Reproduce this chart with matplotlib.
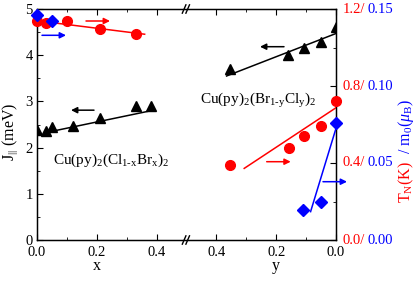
import matplotlib
matplotlib.use("Agg")
import matplotlib.pyplot as plt
import numpy as np

plt.rcParams['font.family'] = ['Liberation Serif', 'DejaVu Serif']
plt.rcParams['mathtext.fontset'] = 'custom'
plt.rcParams['mathtext.rm'] = 'Liberation Serif'
plt.rcParams['mathtext.it'] = 'Liberation Serif:italic'
plt.rcParams['mathtext.bf'] = 'Liberation Serif:bold'
plt.rcParams['font.size'] = 10.5

# ---- data: Cu(py)2(Cl1-xBrx)2 (left part, vs x) ----
x_J = [0.0, 0.03, 0.05, 0.12, 0.21, 0.33, 0.38]
J_x = [2.38, 2.36, 2.45, 2.46, 2.63, 2.89, 2.91]
x_TN = [0.0, 0.03, 0.10, 0.21, 0.33]
TN_x = [1.139, 1.129, 1.139, 1.098, 1.069]
x_m0 = [0.0, 0.05]
m0_x = [0.146, 0.142]
xfit_J = [0.033, 0.39]
Jfit_x = [2.33, 2.81]
xfit_TN = [0.0, 0.36]
TNfit_x = [1.139, 1.069]

# ---- data: Cu(py)2(Br1-yCly)2 (right part, vs y) ----
y_J = [0.355, 0.16, 0.106, 0.051, 0.0]
J_y = [3.71, 4.01, 4.15, 4.28, 4.60]
y_TN = [0.355, 0.157, 0.108, 0.049, 0.0]
TN_y = [0.39, 0.479, 0.540, 0.594, 0.722]
y_m0 = [0.111, 0.05, 0.0]
m0_y = [0.0195, 0.0249, 0.0758]
yfit_J = [0.366, 0.0]
Jfit_y = [3.55, 4.47]
yfit_TN = [0.307, 0.0]
TNfit_y = [0.372, 0.687]
yfit_m0 = [0.085, 0.0]
m0fit_y = [0.0184, 0.0725]

xticks_left = [0.0, 0.2, 0.4]
yticks_right = [0.4, 0.2, 0.0]
TN_ticks = [0.0, 0.4, 0.8, 1.2]
m0_ticks = [0.00, 0.05, 0.10, 0.15]

def Y(v):
    return 1.0 - np.asarray(v)

fig = plt.figure(figsize=(4.15, 2.81), dpi=100)
ax = fig.add_axes([37/415, 1-240/281, (336-37)/415, (240-9)/281])
ax2 = ax.twinx()
ax3 = ax.twinx()
ax3.set_axis_off()

ms = 7.5
# J (black)
ax.plot(x_J, J_x, '^', color='black', ms=ms, zorder=5)
ax.plot(xfit_J, Jfit_x, '-', color='black', lw=1.1)
ax.plot(Y(y_J), J_y, '^', color='black', ms=ms, zorder=5)
ax.plot(Y(yfit_J), Jfit_y, '-', color='black', lw=1.1)
# TN (red)
ax2.plot(x_TN, TN_x, 'o', color='red', ms=7, zorder=5, clip_on=False)
ax2.plot(xfit_TN, TNfit_x, '-', color='red', lw=1.1)
ax2.plot(Y(y_TN), TN_y, 'o', color='red', ms=7, zorder=5, clip_on=False)
ax2.plot(Y(yfit_TN), TNfit_y, '-', color='red', lw=1.1)
# m0 (blue)
ax3.plot(x_m0, m0_x, 'D', color='blue', ms=6, zorder=6, clip_on=False)
ax3.plot(Y(y_m0), m0_y, 'D', color='blue', ms=6, zorder=6, clip_on=False)
ax3.plot(Y(yfit_m0), m0fit_y, '-', color='blue', lw=1.1)

ax.set_xlim(0, 1)
ax.set_ylim(0, 5)
ax2.set_ylim(0, 1.2)
ax3.set_ylim(0, 0.15)
ax3.set_xlim(0, 1)

# x ticks
major_pos = list(xticks_left) + list(Y(yticks_right))
major_lab = [f"{v:.1f}" for v in xticks_left] + [f"{v:.1f}" for v in yticks_right]
ax.set_xticks(major_pos)
ax.set_xticklabels(major_lab)
ax.set_xticks([0.1, 0.3, 0.7, 0.9], minor=True)
ax.tick_params(axis='x', which='both', direction='in', top=True, pad=4)
ax.tick_params(axis='x', which='major', length=4)
ax.tick_params(axis='x', which='minor', length=2.5)

ax.set_yticks([0, 1, 2, 3, 4, 5])
ax.set_yticks([0.5, 1.5, 2.5, 3.5, 4.5], minor=True)
ax.tick_params(axis='y', which='both', direction='in', pad=3)
ax.tick_params(axis='y', which='major', length=4)
ax.tick_params(axis='y', which='minor', length=2.5)

ax2.set_yticks(TN_ticks)
ax2.set_yticks([0.2, 0.6, 1.0], minor=True)
ax2.set_yticklabels([])
ax2.tick_params(axis='y', which='both', direction='in')
ax2.tick_params(axis='y', which='major', length=4)
ax2.tick_params(axis='y', which='minor', length=2.5)

for t, m in zip(TN_ticks, m0_ticks):
    ax2.annotate(f"{t:.1f}/", xy=(1, t), xycoords=('axes fraction', 'data'),
                 xytext=(5, 0), textcoords='offset points', color='red',
                 ha='left', va='center', fontsize=10.5)
    ax2.annotate(f"{m:.2f}", xy=(1, t), xycoords=('axes fraction', 'data'),
                 xytext=(22.5, 0), textcoords='offset points', color='blue',
                 ha='left', va='center', fontsize=10.5)

for s in ax.spines.values():
    s.set_linewidth(1.0)

# axis break marks
for yy in (0, 1):
    for dx in (-0.008, 0.004):
        ax.plot([0.5 + dx - 0.006, 0.5 + dx + 0.006], [yy - 0.018, yy + 0.018],
                transform=ax.transAxes, color='black', lw=1.0, clip_on=False, zorder=10)

# labels
ax.text(0.2, -0.113, "x", transform=ax.get_xaxis_transform(), ha='center', va='center', fontsize=11.5)
ax.text(0.8, -0.113, "y", transform=ax.get_xaxis_transform(), ha='center', va='center', fontsize=11.5)
fig.text(10/415, 1-132/281, r"J$_{||}$ (meV)", rotation=90, ha='center', va='center', fontsize=11.5)
fig.text(406/415, 1-182/281, r"T$_\mathrm{N}$(K)", rotation=90, ha='center', va='center',
         color='red', fontsize=11.5)
fig.text(406/415, 1-127/281, r"/ m$_0$($\mu_\mathrm{B}$)", rotation=90, ha='center', va='center',
         color='blue', fontsize=11.5)

ax.text(0.054, 1.73, r"Cu(py)$_2$(Cl$_{\mathrm{1\text{-}x}}$Br$_\mathrm{x}$)$_2$", ha='left', va='center', fontsize=11)
ax.text(0.545, 3.03, r"Cu(py)$_2$(Br$_{\mathrm{1\text{-}y}}$Cl$_\mathrm{y}$)$_2$", ha='left', va='center', fontsize=11)

# arrows
def arrow(a, x0, x1, yv, color):
    a.annotate("", xy=(x1, yv), xytext=(x0, yv),
               arrowprops=dict(arrowstyle='-|>', color=color, lw=1.1,
                               mutation_scale=9, shrinkA=0, shrinkB=0),
               annotation_clip=False)

arrow(ax, (94-37)/299, (71-37)/299, 2.81, 'black')
arrow(ax2, (86-37)/299, (110-37)/299, (240-21)/192.5, 'red')
arrow(ax2, (42-37)/299, (66-37)/299, (240-35.3)/192.5, 'blue')
arrow(ax, (284-37)/299, (260-37)/299, (240-46.7)/46.2, 'black')
arrow(ax2, (266.7-37)/299, (290.7-37)/299, (240-161.7)/192.5, 'red')
arrow(ax2, (323-37)/299, (347-37)/299, (240-181.7)/192.5, 'blue')

fig.savefig("out.png", dpi=100)
